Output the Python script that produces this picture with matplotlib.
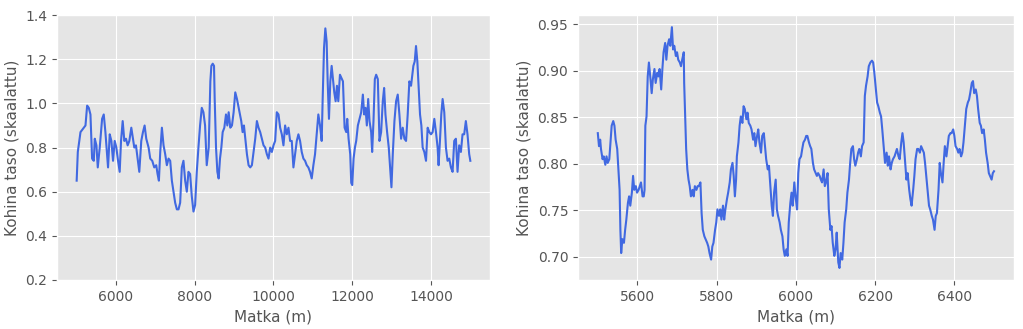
import matplotlib
matplotlib.use("Agg")
import matplotlib.pyplot as plt

plt.style.use("ggplot")
plt.rcParams["axes.labelsize"] = 11

LINE_COLOR = "royalblue"

# Left panel: full section 5000-15000 m
dist_full = [
    5000, 5029, 5097, 5181, 5224, 5266, 5308, 5350, 5392, 5435, 5460, 5502, 5536, 5586, 5646,
    5688, 5730, 5772, 5797, 5840, 5882, 5924, 5966, 6008, 6051, 6093, 6127, 6169, 6211, 6253,
    6295, 6338, 6388, 6430, 6464, 6506, 6557, 6591, 6641, 6684, 6726, 6768, 6827, 6869, 6920,
    6971, 7021, 7055, 7089, 7123, 7165, 7207, 7249, 7291, 7334, 7376, 7418, 7460, 7502, 7545,
    7587, 7629, 7671, 7713, 7756, 7798, 7840, 7882, 7924, 7967, 8009, 8051, 8093, 8135, 8178,
    8220, 8262, 8304,
    8354, 8396, 8422, 8456, 8489, 8506, 8540, 8574, 8607, 8641, 8675, 8709, 8751, 8793, 8827,
    8861, 8903, 8945, 8987, 9029, 9072, 9114, 9148, 9181, 9215, 9249, 9283, 9325, 9367, 9409,
    9451, 9494, 9536, 9578, 9620, 9662, 9705, 9747, 9789, 9831, 9873, 9916, 9958, 10000, 10042,
    10084, 10127, 10169, 10211, 10253, 10295, 10338, 10380, 10422, 10464, 10506, 10549, 10591,
    10633, 10675, 10717, 10760, 10802, 10844, 10886, 10928, 10971, 11013, 11055, 11097, 11139,
    11182, 11224, 11249, 11283, 11317, 11350, 11376, 11409, 11443, 11477, 11511, 11544, 11578,
    11612, 11646, 11688,
    11764, 11806, 11848, 11873, 11907, 11949, 11975, 12000, 12034, 12068, 12101, 12143, 12186,
    12228, 12270, 12304, 12338, 12371, 12405, 12439, 12481, 12506, 12540, 12574, 12608, 12650,
    12692, 12734, 12776, 12810, 12844, 12886, 12928, 12962, 12996, 13030, 13072, 13114, 13156,
    13198, 13241, 13283, 13325, 13367, 13409, 13451, 13494, 13528, 13553, 13587, 13620, 13654,
    13688, 13722, 13756, 13789, 13831, 13874, 13916, 13958, 14000, 14042, 14085, 14127, 14169,
    14194, 14228, 14262, 14296, 14338, 14380, 14422, 14464, 14507, 14549, 14591, 14633, 14675,
    14717, 14760, 14802, 14844, 14886, 14928, 14971, 15000,
]
noise_full = [
    0.65, 0.78, 0.87, 0.89, 0.90, 0.99, 0.98, 0.95, 0.75, 0.74, 0.84, 0.81, 0.71, 0.80, 0.93,
    0.95, 0.87, 0.77, 0.71, 0.86, 0.83, 0.74, 0.83, 0.80, 0.74, 0.69, 0.83, 0.92, 0.83, 0.84,
    0.81, 0.83, 0.89, 0.84, 0.80, 0.81, 0.74, 0.69, 0.83, 0.87, 0.90, 0.84, 0.80, 0.75, 0.74,
    0.71, 0.72, 0.68, 0.65, 0.78, 0.89, 0.81, 0.77, 0.72, 0.75, 0.74, 0.65, 0.60, 0.55, 0.52,
    0.52, 0.55, 0.71, 0.74, 0.65, 0.60, 0.69, 0.68, 0.58, 0.51, 0.54, 0.69, 0.80, 0.90, 0.98,
    0.96, 0.90, 0.72,
    0.80, 1.10, 1.17, 1.18, 1.17, 1.02, 0.80, 0.69, 0.66, 0.75, 0.80, 0.87, 0.89, 0.95, 0.90,
    0.96, 0.89, 0.90, 0.96, 1.05, 1.02, 0.98, 0.95, 0.92, 0.87, 0.90, 0.84, 0.77, 0.72, 0.71,
    0.72, 0.78, 0.84, 0.92, 0.89, 0.87, 0.84, 0.81, 0.80, 0.77, 0.75, 0.80, 0.78, 0.81, 0.83,
    0.96, 0.95, 0.89, 0.86, 0.81, 0.90, 0.86, 0.89, 0.83, 0.83, 0.71, 0.77, 0.83,
    0.86, 0.83, 0.78, 0.75, 0.74, 0.72, 0.71, 0.69, 0.66, 0.72, 0.77, 0.86, 0.95,
    0.90, 0.83, 1.02, 1.25, 1.34, 1.28, 1.10, 0.93, 1.10, 1.17, 1.11, 1.05, 1.01,
    1.08, 1.01, 1.13,
    1.10, 0.89, 0.87, 0.93, 0.84, 0.77, 0.64, 0.63, 0.75, 0.80, 0.83, 0.90, 0.93,
    0.96, 1.04, 0.95, 0.98, 0.90, 1.02, 0.92, 0.87, 0.78, 0.92, 1.11, 1.13, 1.11,
    0.83, 0.87, 1.01, 1.07, 0.95, 0.87, 0.80, 0.71, 0.62, 0.77, 0.92, 1.01, 1.04,
    0.95, 0.84, 0.89, 0.84, 0.83, 0.95, 1.10, 1.08, 1.13, 1.17, 1.19, 1.26, 1.19,
    1.07, 0.95, 0.90, 0.80, 0.78, 0.74, 0.89, 0.87, 0.86, 0.87, 0.93, 0.87, 0.80,
    0.72, 0.83, 0.95, 1.02, 0.96, 0.80, 0.74, 0.75, 0.71, 0.69, 0.83, 0.84, 0.69,
    0.81, 0.78, 0.86, 0.86, 0.92, 0.86, 0.77, 0.74,
]

# Right panel: close-up 5500-6500 m
dist_zoom = [
    5500, 5503, 5506, 5508, 5512, 5515, 5519, 5522, 5525, 5529, 5532, 5535, 5539, 5542, 5545,
    5549, 5552, 5555, 5557, 5559, 5562, 5566, 5569, 5572, 5576, 5579, 5582, 5586, 5589, 5592,
    5596, 5599, 5603, 5606, 5609, 5613, 5616, 5618, 5620, 5623, 5626, 5629, 5633, 5636, 5639,
    5643, 5646, 5650, 5653, 5656, 5660, 5663, 5666, 5670, 5673, 5676, 5680, 5683, 5687, 5690,
    5693, 5697, 5700, 5703, 5707, 5710, 5713, 5717, 5718, 5721, 5723, 5726, 5729, 5732, 5735,
    5739, 5742, 5745, 5749, 5752, 5755, 5759, 5762, 5765, 5769, 5772, 5776, 5779, 5782, 5786,
    5789, 5792, 5796, 5799, 5802, 5806, 5809, 5812, 5816, 5819, 5822, 5826, 5829,
    5833, 5836, 5840, 5843, 5846, 5849, 5851, 5855, 5858, 5861, 5865, 5868, 5871, 5875, 5878,
    5881, 5885, 5888, 5892, 5895, 5898, 5902, 5905, 5908, 5912, 5915, 5919, 5922, 5925, 5929,
    5932, 5935, 5939, 5942, 5945, 5949, 5952, 5955, 5959, 5962, 5966, 5969, 5972, 5976, 5979,
    5982, 5986, 5989, 5992, 5996, 5999, 6003, 6006, 6009, 6013, 6016, 6019, 6023, 6026, 6029,
    6033, 6036, 6039, 6043, 6046, 6050, 6053, 6056, 6060, 6063, 6066, 6070, 6073, 6076, 6080,
    6083, 6087, 6090, 6093, 6097, 6100, 6103, 6107, 6110, 6113, 6117, 6120, 6123, 6127, 6130,
    6134, 6137, 6140, 6144, 6147, 6150, 6154, 6157, 6160, 6164, 6167, 6171, 6174, 6177, 6181,
    6184,
    6188, 6192, 6195, 6198, 6202, 6205, 6208, 6212, 6215, 6218, 6222, 6225, 6229, 6232, 6235,
    6239, 6242, 6245, 6249, 6252, 6255, 6259, 6262, 6266, 6269, 6272, 6276, 6279, 6282, 6286,
    6289, 6292, 6296, 6299, 6302, 6306, 6309, 6313, 6316, 6319, 6323, 6326, 6329, 6333, 6336,
    6339, 6343, 6346, 6350, 6353, 6356, 6360, 6363, 6366, 6370, 6373, 6376, 6380, 6383, 6386,
    6390, 6393, 6397, 6400, 6403, 6407, 6410, 6413, 6417, 6420, 6423, 6427, 6430, 6434, 6437,
    6440, 6444, 6447, 6450, 6454, 6457, 6460, 6464, 6467, 6470, 6474, 6477, 6480, 6484, 6487,
    6490, 6494, 6497, 6500,
]
noise_zoom = [
    0.833, 0.819, 0.826, 0.816, 0.805, 0.808, 0.799, 0.808, 0.801, 0.805, 0.823, 0.841, 0.846,
    0.841, 0.826, 0.816, 0.794, 0.772, 0.729, 0.704, 0.719, 0.715, 0.729, 0.740, 0.758, 0.765,
    0.755, 0.769, 0.787, 0.772, 0.776, 0.769, 0.772, 0.776, 0.780, 0.765, 0.765, 0.772, 0.841,
    0.851, 0.894, 0.909, 0.891, 0.876, 0.891, 0.902, 0.887, 0.898, 0.894, 0.902, 0.880, 0.902,
    0.920, 0.930, 0.912, 0.927, 0.934, 0.927, 0.947, 0.923, 0.927, 0.916, 0.920, 0.912, 0.909,
    0.905, 0.912, 0.920, 0.887, 0.844, 0.816, 0.794, 0.783, 0.776, 0.765, 0.772, 0.765, 0.776,
    0.772, 0.776, 0.776, 0.780, 0.747, 0.729, 0.722, 0.719, 0.715, 0.711, 0.704, 0.697, 0.711,
    0.715, 0.729, 0.737, 0.751, 0.744, 0.751, 0.740, 0.755, 0.740, 0.751, 0.762, 0.769,
    0.780, 0.794, 0.801, 0.787, 0.765, 0.783, 0.808, 0.823, 0.841, 0.851, 0.844, 0.862, 0.859,
    0.848, 0.855, 0.844, 0.841, 0.837, 0.826, 0.833, 0.819, 0.830, 0.837, 0.823, 0.812, 0.830,
    0.833, 0.819, 0.805, 0.794, 0.798, 0.780, 0.755, 0.744, 0.769, 0.783, 0.751, 0.744, 0.737,
    0.729, 0.722, 0.708, 0.701, 0.708, 0.701, 0.737, 0.758, 0.769, 0.755, 0.780, 0.765, 0.751,
    0.790, 0.805, 0.808, 0.816, 0.823, 0.826, 0.830, 0.830, 0.823, 0.819, 0.816, 0.801, 0.794,
    0.790, 0.787, 0.790, 0.787, 0.783, 0.780, 0.794, 0.776, 0.780, 0.790, 0.751, 0.729, 0.733,
    0.715, 0.701, 0.708, 0.726, 0.694, 0.688, 0.704, 0.697, 0.715, 0.737, 0.751, 0.769, 0.783,
    0.801, 0.816, 0.819, 0.805, 0.798, 0.805, 0.812, 0.816, 0.808, 0.819, 0.823, 0.873, 0.884,
    0.894, 0.905,
    0.909, 0.911, 0.909, 0.898, 0.880, 0.866, 0.862, 0.855, 0.851, 0.837, 0.816, 0.801, 0.812,
    0.798, 0.808, 0.794, 0.801, 0.805, 0.808, 0.812, 0.816, 0.808, 0.805, 0.823, 0.833, 0.823,
    0.801, 0.783, 0.790, 0.772, 0.762, 0.755, 0.772, 0.787, 0.805, 0.816, 0.816, 0.812, 0.819,
    0.816, 0.812, 0.801, 0.787, 0.769, 0.755, 0.751, 0.744, 0.740, 0.729, 0.744, 0.747, 0.772,
    0.801, 0.790, 0.780, 0.801, 0.819, 0.808, 0.819, 0.830, 0.833, 0.833, 0.837, 0.830, 0.819,
    0.816, 0.812, 0.816, 0.808, 0.812, 0.823, 0.844, 0.859, 0.866, 0.869, 0.876, 0.887, 0.889,
    0.876, 0.880, 0.873, 0.859, 0.844, 0.841, 0.833, 0.837, 0.826, 0.812, 0.801, 0.790, 0.787,
    0.783, 0.790, 0.792,
]

fig = plt.figure(figsize=(10.23, 3.29), dpi=100)
ax1 = fig.add_axes([0.0557, 0.149, 0.4233, 0.805])
ax2 = fig.add_axes([0.565, 0.149, 0.426, 0.805])

ax1.plot(dist_full, noise_full, color=LINE_COLOR, linewidth=1.5)
ax1.set_ylim(0.2, 1.4)
ax1.set_xlabel("Matka (m)")
ax1.set_ylabel("Kohina taso (skaalattu)")

ax2.plot(dist_zoom, noise_zoom, color=LINE_COLOR, linewidth=1.5)
ax2.set_xlabel("Matka (m)")
ax2.set_ylabel("Kohina taso (skaalattu)")

fig.savefig("out.png", dpi=100)
